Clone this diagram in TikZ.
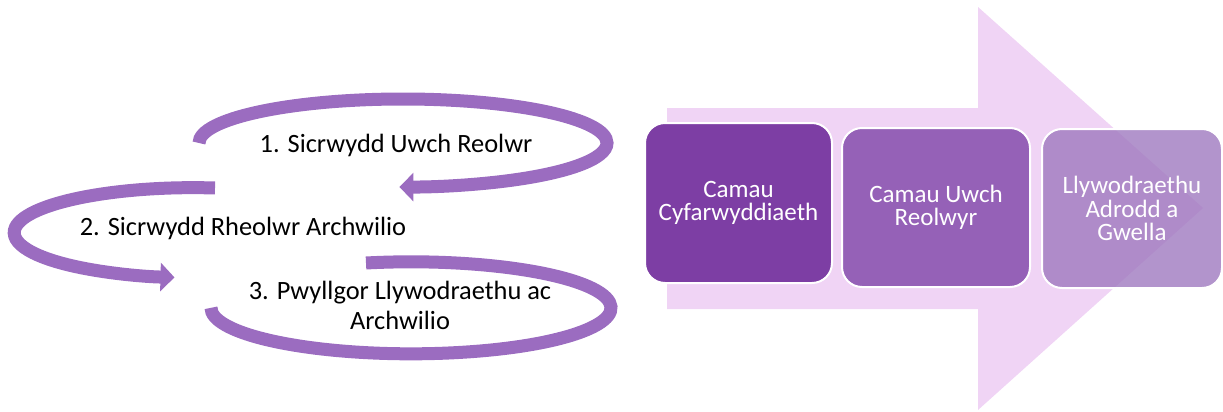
\documentclass[tikz,border=0pt]{standalone}
\usepackage{fontspec}
\setmainfont{Carlito}
\usetikzlibrary{arrows.meta}
\definecolor{looppurple}{HTML}{9B6CC0}
\definecolor{arrowpink}{HTML}{F0D4F5}
\definecolor{stepone}{HTML}{7D3EA4}
\definecolor{steptwo}{HTML}{9561B7}
\definecolor{stepthree}{HTML}{9F79BF}

\begin{document}
\begin{tikzpicture}[x=0.5pt,y=-0.5pt]
\tikzstyle{loop} = [draw=looppurple, line width=6.5pt]
\tikzstyle{looptip} = [loop, -{Triangle[length=7pt,width=14pt]}]
\tikzstyle{label} = [font=\fontsize{13.2}{15}\selectfont, align=center]
\tikzstyle{stepbox} = [draw=white, line width=1pt, rounded corners=10pt, text=white,
  align=center, font=\fontsize{12.5}{11.8}\selectfont, minimum height=80pt]
\useasboundingbox (0,0) rectangle (1223,412);
% the three loops
\draw[looptip] (199,143) arc[start angle=180, end angle=451, x radius=204, y radius=44];
\draw[looptip] (215,188) arc[start angle=277, end angle=96, x radius=179, y radius=45];
\draw[loop] (366,263) arc[start angle=257, end angle=540, x radius=200, y radius=46];
\node[label] (t1) at (396,145) {1. Sicrwydd Uwch Reolwr};
\node[label] (t2) at (243,228) {2. Sicrwydd Rheolwr Archwilio};
\node[label] (t3) at (400,305) {3. Pwyllgor Llywodraethu ac\\Archwilio};
% big arrow behind the steps
\fill[arrowpink] (667,108) -- (978,108) -- (978,7) -- (1203,208) -- (978,410) -- (978,309) -- (667,309) -- cycle;
\node[stepbox, fill=stepone, minimum width=93.5pt] (b1) at (738.5,203) {Camau\\Cyfarwyddiaeth};
\node[stepbox, fill=steptwo, minimum width=94pt, minimum height=79.5pt] (b2) at (936,207.5) {Camau Uwch\\Reolwyr};
\node[stepbox, fill=stepthree, fill opacity=0.8, text opacity=1, minimum width=90pt, minimum height=79.5pt] (b3) at (1132,208.5) {Llywodraethu\\Adrodd a\\Gwella};
\end{tikzpicture}
\end{document}
